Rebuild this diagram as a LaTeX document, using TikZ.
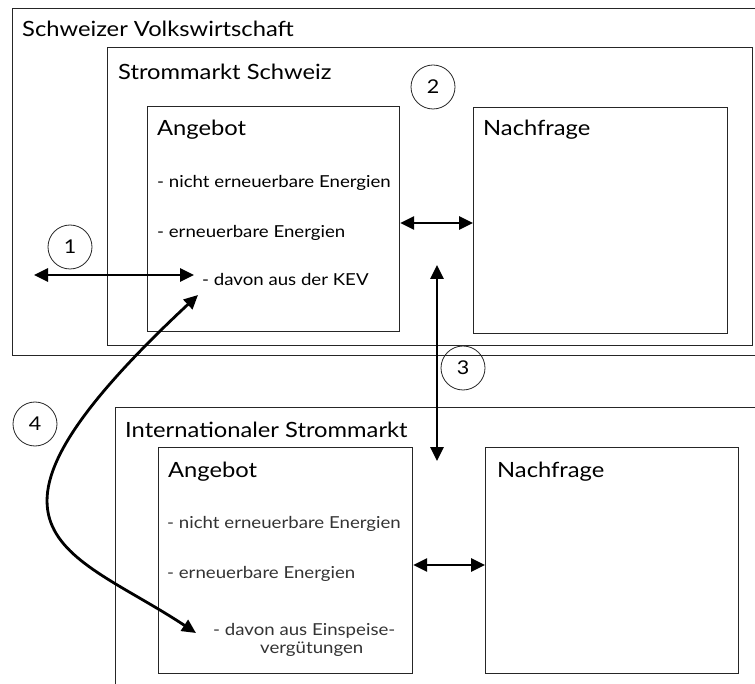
\documentclass[tikz,border=0pt]{standalone}
\usepackage{fontspec}
\setmainfont[FakeStretch=1.13]{Lato}
\usetikzlibrary{arrows.meta}
\begin{document}
\begin{tikzpicture}[x=1pt,y=-1pt,
  frame/.style={draw=black!85, line width=1.1pt},
  panel/.style={frame, anchor=north west, inner sep=0pt},
  head/.style={anchor=base west, inner sep=0pt, font=\fontsize{21}{24}\selectfont},
  item/.style={anchor=base west, inner sep=0pt, font=\fontsize{16.5}{19}\selectfont},
  itemlight/.style={item, text=black!80},
  num/.style={draw=black!85, line width=0.8pt, circle, minimum size=44pt, inner sep=0pt, font=\fontsize{19}{20}\selectfont},
  link/.style={line width=2.8pt, {Triangle[length=14pt,width=13pt]}-{Triangle[length=14pt,width=13pt]}},
]
\useasboundingbox (0,0) rectangle (755,684);
\clip (0,0) rectangle (755,684);

% nested market frames
\node[panel, minimum width=758pt, minimum height=347pt] (economy) at (12,8) {};
\node[panel, minimum width=645pt, minimum height=298pt] (chmarket) at (107,47) {};
\node[panel, minimum width=252pt, minimum height=225pt] (chsupply) at (147,106) {};
\node[panel, minimum width=254pt, minimum height=226pt] (chdemand) at (473,107) {};
\node[panel, minimum width=655pt, minimum height=293pt] (intmarket) at (115,407) {};
\node[panel, minimum width=254pt, minimum height=226pt] (intsupply) at (158,447) {};
\node[panel, minimum width=253pt, minimum height=226pt] (intdemand) at (485,447) {};

% headings
\node[head] (tEconomy) at (22,37) {Schweizer Volkswirtschaft};
\node[head] (tChMarket) at (118,80) {Strommarkt Schweiz};
\node[head] (tChSupply) at (157,136) {Angebot};
\node[head] (tChDemand) at (483,136) {Nachfrage};
\node[head] (tIntMarket) at (125,437) {Internationaler Strommarkt};
\node[head] (tIntSupply) at (168,477) {Angebot};
\node[head] (tIntDemand) at (497,477) {Nachfrage};

% supply items
\node[item] (ch1) at (157,188) {- nicht erneuerbare Energien};
\node[item] (ch2) at (157,238) {- erneuerbare Energien};
\node[item] (ch3) at (202,286) {- davon aus der KEV};
\node[itemlight] (int1) at (167,528) {- nicht erneuerbare Energien};
\node[itemlight] (int2) at (167,578) {- erneuerbare Energien};
\node[itemlight] (int3) at (213,635) {- davon aus Einspeise-};
\node[itemlight] (int4) at (260,653) {vergütungen};

% numbered markers
\node[num] (n1) at (70,247) {1};
\node[num] (n2) at (433,87) {2};
\node[num] (n3) at (463,368) {3};
\node[num] (n4) at (35,424) {4};

% connector end points
\coordinate (a1) at (34,275);
\coordinate (b1) at (194,275);
\coordinate (y2) at (0,223);
\coordinate (a3) at (437,265);
\coordinate (b3) at (437,461);
\coordinate (yint) at (0,565);
\coordinate (a4) at (198,295);
\coordinate (b4) at (196,633);

% exchanges
\draw[link] (a1) -- (b1);
\draw[link] (chsupply.east |- y2) -- (chdemand.west |- y2);
\draw[link] (a3) -- (b3);
\draw[link] (intsupply.east |- yint) -- (intdemand.west |- yint);
\draw[link] (a4) .. controls (-58,534) and (69,549) .. (b4);
\end{tikzpicture}
\end{document}
